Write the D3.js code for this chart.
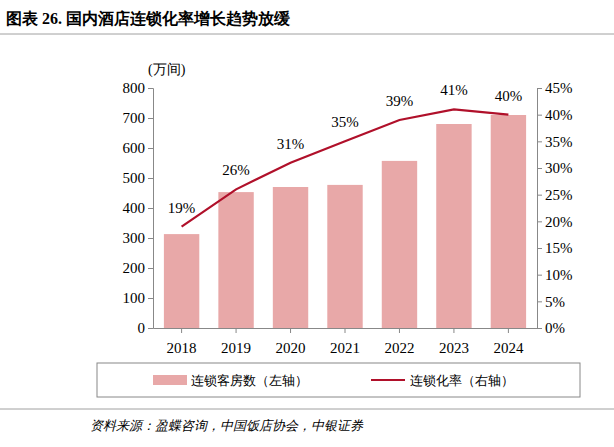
<!DOCTYPE html><html><head><meta charset="utf-8"><script src="https://cdn.jsdelivr.net/npm/d3@7"></script>
<style>body{margin:0;background:#fff}text{font-family:"Times New Roman","Liberation Serif",serif}</style></head><body><svg width="614" height="447"></svg>
<script>
const years=["2018","2019","2020","2021","2022","2023","2024"];
const rooms=[313,453,470,477,557,680,710];
const rate=[19,26,31,35,39,41,40];
const leftTicks=[0,100,200,300,400,500,600,700,800];
const rightTicks=[0,5,10,15,20,25,30,35,40,45];
const svg=d3.select("svg");
const cjk='"Noto Sans CJK SC",sans-serif';
svg.append("text").attr("x",6).attr("y",24).attr("font-family",cjk).attr("font-weight","bold").attr("font-size",16).text("图表 26.  国内酒店连锁化率增长趋势放缓");
svg.append("line").attr("x1",0).attr("x2",614).attr("y1",34).attr("y2",34).attr("stroke","#888").attr("stroke-width",0.8);
const x=d3.scaleBand().domain(years).range([153,537]).paddingInner(0.35).paddingOuter(0.2);
const yL=d3.scaleLinear().domain([0,800]).range([328,88]);
const yR=d3.scaleLinear().domain([0,45]).range([328,88]);
svg.selectAll("rect.b").data(rooms).join("rect").attr("x",(d,i)=>x(years[i])).attr("width",x.bandwidth()).attr("y",d=>yL(d)).attr("height",d=>328-yL(d)).attr("fill","#e8a8a8");
const ax=svg.append("g").attr("transform","translate(153,0)").call(d3.axisLeft(yL).tickValues(leftTicks).tickSize(5));
const ar=svg.append("g").attr("transform","translate(537,0)").call(d3.axisRight(yR).tickValues(rightTicks).tickFormat(d=>d+"%").tickSize(5));
const ab=svg.append("g").attr("transform","translate(0,328)").call(d3.axisBottom(x).tickSize(5).tickSizeOuter(0));
[ax,ar,ab].forEach(g=>{g.selectAll("text").attr("font-size",15).attr("fill","#000").attr("font-family",'"Liberation Serif",serif');g.selectAll("path,line").attr("stroke","#888");});
ab.selectAll("text").attr("dy","1.1em");
const cx=d=>x(d)+x.bandwidth()/2;
svg.append("path").datum(rate).attr("d",d3.line().x((d,i)=>cx(years[i])).y(d=>yR(d))).attr("fill","none").attr("stroke","#b0102a").attr("stroke-width",2.2);
svg.selectAll("text.l").data(rate).join("text").attr("x",(d,i)=>cx(years[i])).attr("y",d=>yR(d)-14).attr("text-anchor","middle").attr("font-size",15).attr("font-family",'"Liberation Serif",serif').text(d=>d+"%");
svg.append("text").attr("x",148).attr("y",74).attr("font-size",14).attr("font-family",cjk).text("(万间)");
svg.append("rect").attr("x",97).attr("y",363).attr("width",483).attr("height",34).attr("fill","none").attr("stroke","#888");
svg.append("rect").attr("x",153).attr("y",375).attr("width",34).attr("height",10).attr("fill","#e8a8a8");
svg.append("text").attr("x",191).attr("y",385).attr("font-size",13).attr("font-family",cjk).text("连锁客房数（左轴）");
svg.append("line").attr("x1",371).attr("x2",405).attr("y1",380).attr("y2",380).attr("stroke","#b0102a").attr("stroke-width",2.2);
svg.append("text").attr("x",410).attr("y",385).attr("font-size",13).attr("font-family",cjk).text("连锁化率（右轴）");
svg.append("line").attr("x1",0).attr("x2",614).attr("y1",409).attr("y2",409).attr("stroke","#888").attr("stroke-width",0.8);
svg.append("text").attr("x",90).attr("y",430).attr("font-size",13).attr("font-style","italic").attr("font-family",cjk).text("资料来源：盈蝶咨询，中国饭店协会，中银证券");
</script></body></html>
